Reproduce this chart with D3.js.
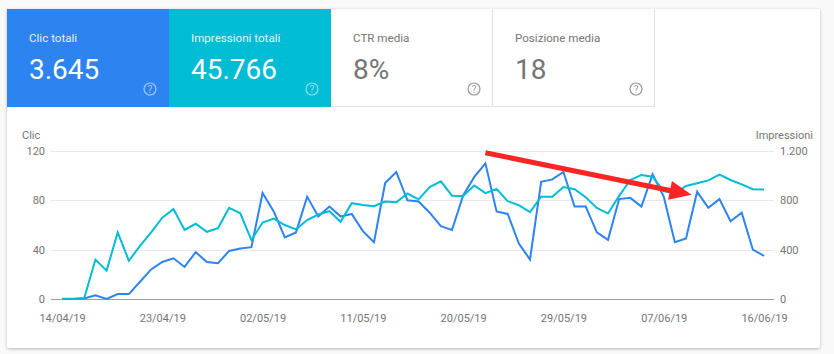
<!DOCTYPE html>
<html>
<head>
<meta charset="utf-8">
<script src="https://cdn.jsdelivr.net/npm/d3@7"></script>
<style>
  html, body { margin: 0; padding: 0; background: #f9f9f9; }
  svg { display: block; font-family: Roboto, sans-serif; }
  .axis path, .axis line { display: none; }
  .axis text { fill: #757575; font-size: 11px; font-family: Roboto, sans-serif; }
</style>
</head>
<body>
<svg width="834" height="354"></svg>
<script>
(() => {
  const tileTitles = ['Clic totali', 'Impressioni totali', 'CTR media', 'Posizione media'];
  const tileValues = ['3.645', '45.766', '8%', '18'];
  const tileFills = ['#2d83f0', '#00bcd4', '#ffffff', '#ffffff'];

  const clicks = [0, 0, 0.5, 3, 0, 4, 4, 14, 24, 30, 33, 26, 38, 30, 29, 39, 41, 42, 86, 71, 50, 54, 83, 67, 75, 67, 69, 55, 46, 94, 103, 80, 79, 70, 59, 56, 84, 99, 110, 71, 69, 45, 32, 95, 97, 103, 75, 75, 54, 48, 81, 82, 75, 101, 83, 46, 49, 87, 74, 81, 63, 70, 40, 35];
  const impressions = [2, 3, 8, 320, 230, 540, 310, 430, 540, 660, 730, 560, 610, 545, 575, 740, 695, 478, 620, 652, 600, 564, 640, 685, 712, 626, 777, 763, 752, 790, 785, 855, 808, 908, 954, 838, 836, 920, 858, 893, 793, 760, 704, 830, 830, 908, 890, 825, 739, 693, 836, 965, 1006, 992, 875, 858, 917, 938, 962, 1008, 965, 930, 890, 887];

  const dateTicks = ['14/04/19', '23/04/19', '02/05/19', '11/05/19', '20/05/19', '29/05/19', '07/06/19', '16/06/19'];
  const clickTicks = [0, 40, 80, 120];
  const impressionTicks = [0, 400, 800, 1200];

  // red annotation arrow, given in chart units: [day index, clicks]
  const arrowFrom = [38, 118.6];
  const arrowTo = [56.5, 84.5];

  const svg = d3.select('svg');
  const parseDate = d3.timeParse('%d/%m/%y');
  const formatDate = d3.timeFormat('%d/%m/%y');
  const firstDay = parseDate(dateTicks[0]);
  const lastDay = parseDate(dateTicks[dateTicks.length - 1]);
  const days = d3.timeDay.range(firstDay, d3.timeDay.offset(lastDay, 1));

  const x = d3.scaleTime().domain([firstDay, lastDay]).range([62, 764]);
  const yLeft = d3.scaleLinear().domain([0, 120]).range([299, 151]);
  const yRight = d3.scaleLinear().domain([0, 1200]).range([299, 151]);

  // card
  const defs = svg.append('defs');
  const shadow = defs.append('filter').attr('id', 'cardShadow')
    .attr('x', '-3%').attr('y', '-3%').attr('width', '106%').attr('height', '108%');
  shadow.append('feDropShadow')
    .attr('dx', 0).attr('dy', 1).attr('stdDeviation', 1.5)
    .attr('flood-color', '#000').attr('flood-opacity', 0.28);

  svg.append('rect')
    .attr('x', 7).attr('y', 9).attr('width', 813).attr('height', 339).attr('rx', 2)
    .attr('fill', '#fff').attr('filter', 'url(#cardShadow)');

  // tiles
  const tileWidth = 162;
  const tiles = svg.selectAll('.tile').data(tileTitles).enter().append('g')
    .attr('class', 'tile')
    .attr('transform', (d, i) => 'translate(' + (7 + i * tileWidth) + ',9)');

  tiles.append('rect')
    .attr('width', tileWidth).attr('height', 98)
    .attr('fill', (d, i) => tileFills[i]);

  // light borders on the two white tiles only
  tiles.filter((d, i) => i > 1).append('path')
    .attr('d', 'M' + (tileWidth - 0.5) + ',0V97.5H0')
    .attr('fill', 'none').attr('stroke', '#e0e0e0');

  tiles.append('text')
    .attr('x', 22).attr('y', 33)
    .attr('font-size', 11.6)
    .attr('fill', (d, i) => i < 2 ? '#fff' : '#757575')
    .attr('fill-opacity', (d, i) => i < 2 ? 0.9 : 1)
    .text(d => d);

  tiles.append('text')
    .attr('x', 22).attr('y', 70)
    .attr('font-size', 28)
    .attr('fill', (d, i) => i < 2 ? '#fff' : '#757575')
    .text((d, i) => tileValues[i]);

  const help = tiles.append('g').attr('transform', 'translate(143,80)')
    .attr('opacity', (d, i) => i < 2 ? 0.55 : 0.75);
  help.append('circle')
    .attr('r', 6).attr('fill', 'none').attr('stroke-width', 1.2)
    .attr('stroke', (d, i) => i < 2 ? '#fff' : '#757575');
  help.append('text')
    .attr('text-anchor', 'middle').attr('y', 3.5).attr('font-size', 10)
    .attr('fill', (d, i) => i < 2 ? '#fff' : '#757575')
    .text('?');

  // grid
  svg.selectAll('.grid').data(clickTicks).enter().append('line')
    .attr('class', 'grid')
    .attr('x1', 51).attr('x2', 774)
    .attr('y1', d => Math.round(yLeft(d)) + 0.5)
    .attr('y2', d => Math.round(yLeft(d)) + 0.5)
    .attr('stroke', d => d === 0 ? '#9e9e9e' : '#e8e8e8');

  // axes
  svg.append('g').attr('class', 'axis')
    .attr('transform', 'translate(51,0)')
    .call(d3.axisLeft(yLeft).tickValues(clickTicks).tickSize(0).tickPadding(6));

  svg.append('g').attr('class', 'axis')
    .attr('transform', 'translate(774,0)')
    .call(d3.axisRight(yRight).tickValues(impressionTicks).tickSize(0).tickPadding(6)
      .tickFormat(d => d >= 1000 ? d3.format(',')(d).replace(',', '.') : d));

  svg.append('g').attr('class', 'axis')
    .attr('transform', 'translate(0,299)')
    .call(d3.axisBottom(x).tickValues(dateTicks.map(parseDate)).tickSize(0).tickPadding(15)
      .tickFormat(formatDate));

  svg.append('text')
    .attr('x', 22).attr('y', 139).attr('font-size', 11).attr('fill', '#757575')
    .text('Clic');
  svg.append('text')
    .attr('x', 813).attr('y', 139).attr('font-size', 11).attr('fill', '#757575')
    .attr('text-anchor', 'end')
    .text('Impressioni');

  // lines
  const clickLine = d3.line().x((d, i) => x(days[i])).y(d => yLeft(d));
  const impressionLine = d3.line().x((d, i) => x(days[i])).y(d => yRight(d));

  svg.append('path').datum(clicks)
    .attr('d', clickLine)
    .attr('fill', 'none').attr('stroke', '#2d83f0').attr('stroke-width', 2);

  svg.append('path').datum(impressions)
    .attr('d', impressionLine)
    .attr('fill', 'none').attr('stroke', '#00bcd4').attr('stroke-width', 2);

  // arrow on top of everything
  const dayAt = i => firstDay.getTime() + i * 864e5;
  const ax = x(dayAt(arrowFrom[0]));
  const ay = yLeft(arrowFrom[1]);
  const bx = x(dayAt(arrowTo[0]));
  const by = yLeft(arrowTo[1]);
  const angle = Math.atan2(by - ay, bx - ax) * 180 / Math.PI;
  const length = Math.hypot(bx - ax, by - ay);

  const arrow = svg.append('g')
    .attr('transform', 'translate(' + ax + ',' + ay + ') rotate(' + angle + ')');
  arrow.append('line')
    .attr('x1', 0).attr('x2', length - 18).attr('y1', 0).attr('y2', 0)
    .attr('stroke', '#fb2525').attr('stroke-width', 5);
  arrow.append('path')
    .attr('d', 'M' + length + ',0L' + (length - 22) + ',-9.5L' + (length - 22) + ',9.5Z')
    .attr('fill', '#fb2525');
})();
</script>
</body>
</html>
